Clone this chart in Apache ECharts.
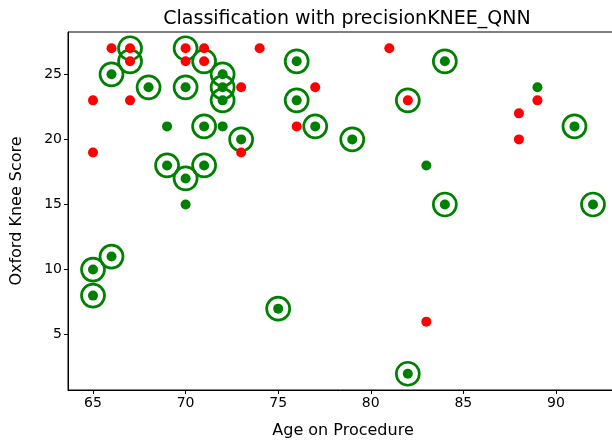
<!DOCTYPE html>
<html>
<head>
<meta charset="utf-8">
<script src="https://cdn.jsdelivr.net/npm/echarts@6/dist/echarts.min.js"></script>
<style>
html,body{margin:0;padding:0;background:#fff;}
#chart{width:612px;height:442px;}
</style>
</head>
<body>
<div id="chart"></div>
<script>
// Predicted negative (red dots)
const redPoints = [
  [65,23],[65,19],[66,27],[67,27],[67,26],[67,23],[70,27],[70,26],[71,27],[71,26],
  [73,24],[73,19],[74,27],[76,21],[77,24],[81,27],[82,23],[83,6],[88,22],[88,20],[89,23]
];
// Predicted positive (green dots)
const greenPoints = [
  [65,10],[65,8],[66,11],[66,25],[68,24],[69,18],[70,17],[71,18],[70,24],[71,21],
  [72,25],[72,24],[72,23],[73,20],[75,7],[76,26],[76,23],[77,21],[79,20],[82,2],
  [84,26],[84,15],[91,21],[92,15],
  [69,21],[70,15],[72,21],[83,18],[89,24]
];
// Actual positives (green rings)
const ringPoints = [
  [65,10],[65,8],[66,11],[66,25],[67,27],[67,26],[68,24],[69,18],[70,17],[71,18],
  [70,27],[70,24],[71,26],[71,21],[72,25],[72,24],[72,23],[73,20],[75,7],[76,26],
  [76,23],[77,21],[79,20],[82,23],[82,2],[84,26],[84,15],[91,21],[92,15]
];
const xTicks = [65,70,75,80,85,90];
const yTicks = [5,10,15,20,25];

const FONT = 'DejaVu Sans';
const chart = echarts.init(document.getElementById('chart'), null, {renderer:'canvas'});
chart.setOption({
  animation: false,
  backgroundColor: '#fff',
  title: {
    text: 'Classification with precisionKNEE_QNN',
    left: 342, top: 5, textAlign: 'center',
    textStyle: {fontFamily: FONT, fontSize: 19, fontWeight: 'normal', color: '#000'}
  },
  grid: {left: 68, top: 32, width: 550, height: 358, outerBoundsMode: 'none', containLabel: false,
         show: true, borderColor: '#000', borderWidth: 1, backgroundColor: 'transparent'},
  xAxis: {
    type: 'value', min: 63.65, max: 93.35,
    name: 'Age on Procedure', nameLocation: 'middle', nameGap: 33,
    nameTextStyle: {fontFamily: FONT, fontSize: 16, color: '#000'},
    axisLine: {show: true, lineStyle: {color: '#000', width: 1}},
    axisTick: {show: true, length: 4, lineStyle: {color: '#000'}, customValues: xTicks},
    axisLabel: {fontFamily: FONT, fontSize: 14, color: '#000', margin: 6, customValues: xTicks},
    splitLine: {show: false}
  },
  yAxis: {
    type: 'value', min: 0.75, max: 28.25,
    name: 'Oxford Knee Score', nameLocation: 'middle', nameGap: 43, nameRotate: 90,
    nameTextStyle: {fontFamily: FONT, fontSize: 16, color: '#000'},
    axisLine: {show: true, lineStyle: {color: '#000', width: 1}},
    axisTick: {show: true, length: 4, lineStyle: {color: '#000'}, customValues: yTicks},
    axisLabel: {fontFamily: FONT, fontSize: 14, color: '#000', margin: 6, customValues: yTicks},
    splitLine: {show: false}
  },
  series: [
    {type: 'scatter', data: ringPoints, symbol: 'circle', symbolSize: 23, z: 2,
     itemStyle: {color: 'transparent', borderColor: '#008000', borderWidth: 2.7, opacity: 1}},
    {type: 'scatter', data: greenPoints, symbol: 'circle', symbolSize: 10, z: 3,
     itemStyle: {color: '#008000', opacity: 1}},
    {type: 'scatter', data: redPoints, symbol: 'circle', symbolSize: 10, z: 4,
     itemStyle: {color: '#ff0000', opacity: 1}}
  ]
});
</script>
</body>
</html>
